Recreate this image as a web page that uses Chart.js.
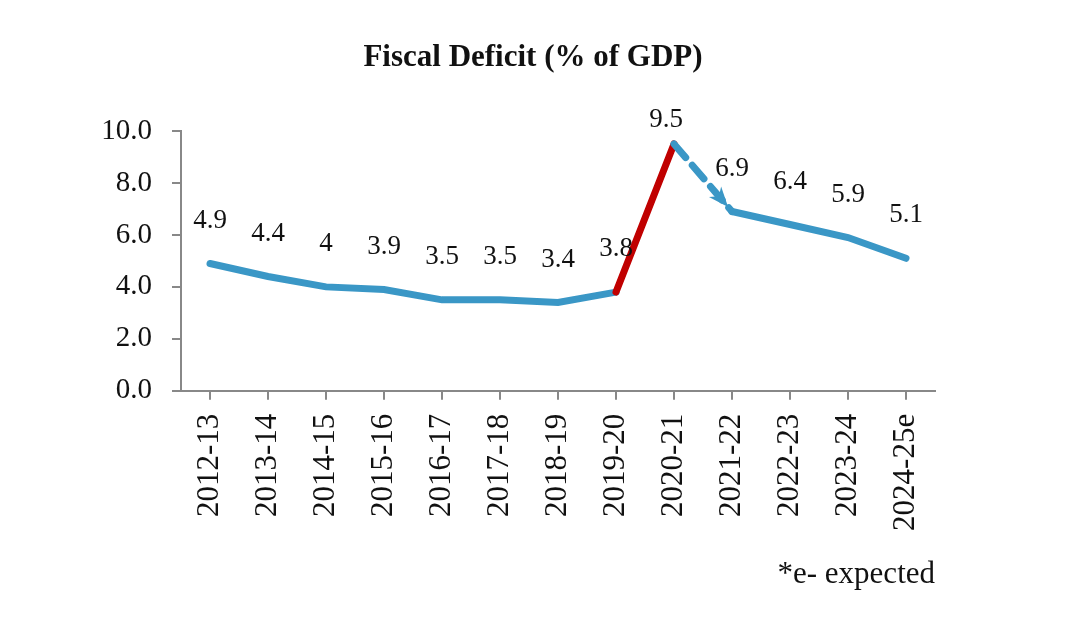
<!DOCTYPE html>
<html>
<head>
<meta charset="utf-8">
<script src="https://cdn.jsdelivr.net/npm/chart.js@4"></script>
<style>
  html, body { margin: 0; padding: 0; background: #fff; }
</style>
</head>
<body>
<canvas id="deficit-chart" width="1080" height="639"></canvas>
<script>
const years = ['2012-13','2013-14','2014-15','2015-16','2016-17','2017-18','2018-19',
               '2019-20','2020-21','2021-22','2022-23','2023-24','2024-25e'];
const deficit = [4.9, 4.4, 4, 3.9, 3.5, 3.5, 3.4, 3.8, 9.5, 6.9, 6.4, 5.9, 5.1];
const yTicks = [0, 2, 4, 6, 8, 10];
const peakYear = '2020-21';
const chartTitle = 'Fiscal Deficit (% of GDP)';

const blue = '#3a97c6';
const red = '#c00000';
const serif = "'Liberation Serif', 'DejaVu Serif', serif";
const peakIdx = years.indexOf(peakYear);

// title centred on the page, not on the plot
const pageTitle = {
    id: 'pageTitle',
    afterDraw(chart) {
        const ctx = chart.ctx;
        ctx.save();
        ctx.font = 'bold 31px ' + serif;
        ctx.fillStyle = '#111';
        ctx.textAlign = 'center';
        ctx.textBaseline = 'middle';
        ctx.fillText(chartTitle, 533, 58);
        ctx.restore();
    }
};

// value labels above each point
const valueLabels = {
    id: 'valueLabels',
    afterDatasetsDraw(chart) {
        const ctx = chart.ctx;
        const meta = chart.getDatasetMeta(0);
        ctx.save();
        ctx.font = '27px ' + serif;
        ctx.fillStyle = '#111';
        ctx.textAlign = 'center';
        ctx.textBaseline = 'middle';
        meta.data.forEach((pt, i) => {
            const up = i === peakIdx ? 24 : 43;
            const dx = i === peakIdx ? -8 : 0;
            ctx.fillText(String(deficit[i]), pt.x + dx, pt.y - up);
        });
        ctx.restore();
    }
};

// arrow head at the end of the dashed fall after the peak
const arrowHead = {
    id: 'arrowHead',
    afterDatasetsDraw(chart) {
        const meta = chart.getDatasetMeta(0);
        const a = meta.data[peakIdx], b = meta.data[peakIdx + 1];
        const ang = Math.atan2(b.y - a.y, b.x - a.x);
        const ctx = chart.ctx;
        const len = 20, half = 8;
        ctx.save();
        ctx.fillStyle = blue;
        ctx.translate(b.x - 6 * Math.cos(ang), b.y - 6 * Math.sin(ang));
        ctx.rotate(ang);
        ctx.beginPath();
        ctx.moveTo(0, 0);
        ctx.lineTo(-len, -half);
        ctx.lineTo(-len * 0.7, 0);
        ctx.lineTo(-len, half);
        ctx.closePath();
        ctx.fill();
        ctx.restore();
    }
};

new Chart(document.getElementById('deficit-chart'), {
    type: 'line',
    data: {
        labels: years,
        datasets: [{
            data: deficit,
            borderColor: blue,
            borderWidth: 7,
            pointRadius: 0,
            tension: 0,
            borderCapStyle: 'round',
            segment: {
                borderColor: c => c.p1DataIndex === peakIdx ? red : undefined,
                borderDash: c => c.p0DataIndex === peakIdx ? [18, 10] : undefined
            }
        }]
    },
    options: {
        responsive: false,
        animation: false,
        devicePixelRatio: 1,
        layout: { padding: { left: 0, right: 145, top: 131, bottom: 0 } },
        plugins: {
            legend: { display: false },
            tooltip: { enabled: false },
            title: { display: false },
            subtitle: {
                display: true,
                position: 'bottom',
                align: 'end',
                text: '*e- expected',
                color: '#111',
                font: { family: serif, size: 31 },
                padding: { top: 0, bottom: 46 }
            }
        },
        scales: {
            x: {
                offset: true,
                grid: { display: true, drawOnChartArea: false, color: '#888', tickLength: 9, lineWidth: 2 },
                border: { color: '#888', width: 2 },
                ticks: {
                    color: '#111',
                    font: { family: serif, size: 31 },
                    minRotation: 90,
                    maxRotation: 90,
                    autoSkip: false,
                    padding: 14
                },
                afterFit(axis) { axis.height = 165; }
            },
            y: {
                min: 0,
                max: 10,
                afterBuildTicks(axis) { axis.ticks = yTicks.map(v => ({ value: v })); },
                grid: { display: true, drawOnChartArea: false, color: '#888', tickLength: 9, lineWidth: 2 },
                border: { color: '#888', width: 2 },
                ticks: {
                    color: '#111',
                    font: { family: serif, size: 29 },
                    padding: 20,
                    callback: v => v.toFixed(1)
                },
                afterFit(axis) { axis.width = 181; }
            }
        }
    },
    plugins: [valueLabels, arrowHead, pageTitle]
});
</script>
</body>
</html>
